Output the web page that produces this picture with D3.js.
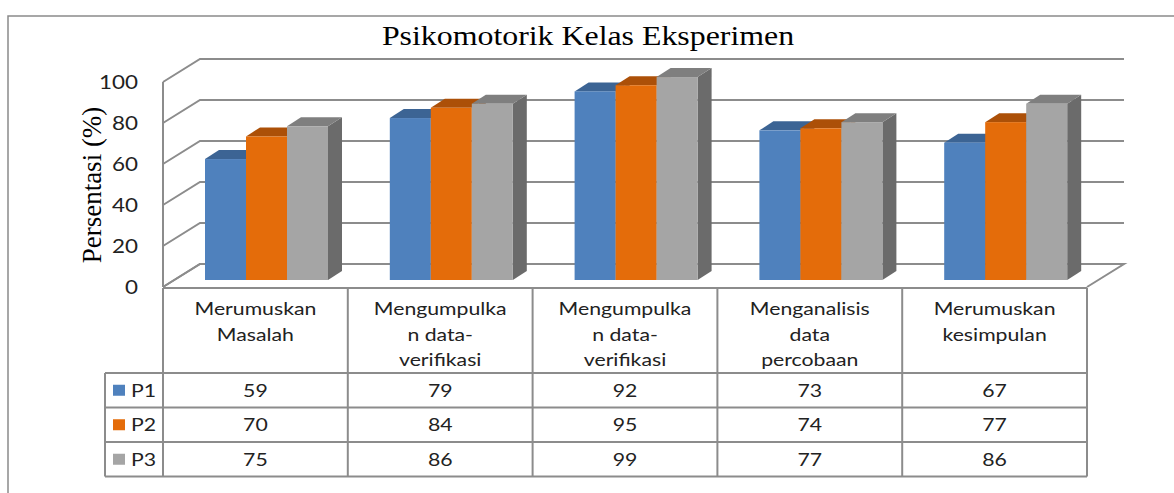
<!DOCTYPE html>
<html>
<head>
<meta charset="utf-8">
<script src="https://cdn.jsdelivr.net/npm/d3@7"></script>
<style>
  body { margin: 0; background: #fff; }
  svg { display: block; }
  .serif { font-family: "Liberation Serif", "Times New Roman", serif; fill: #000; }
  .sans { font-family: Lato, "Open Sans", sans-serif; fill: #222; }
</style>
</head>
<body>
<svg id="chart" width="1174" height="493"></svg>
<script>
// data
let categories = ["Merumuskan Masalah", "Mengumpulkan data-verifikasi (1)", "Mengumpulkan data-verifikasi (2)", "Menganalisis data percobaan", "Merumuskan kesimpulan"]
let categoryLines = [
    ["Merumuskan", "Masalah"],
    ["Mengumpulka", "n data-", "verifikasi"],
    ["Mengumpulka", "n data-", "verifikasi"],
    ["Menganalisis", "data", "percobaan"],
    ["Merumuskan", "kesimpulan"]
]
let seriesNames = ["P1", "P2", "P3"]
let p1 = [59, 79, 92, 73, 67]
let p2 = [70, 84, 95, 74, 77]
let p3 = [75, 86, 99, 77, 86]
let yTicks = [0, 20, 40, 60, 80, 100]

let seriesValues = [p1, p2, p3]
// front, top, side colours per series
let colors = [
    {front: "#4f81bd", top: "#3c6494", side: "#385d8a"},
    {front: "#e46c0a", top: "#ac5008", side: "#a04b08"},
    {front: "#a5a5a5", top: "#7f7f7f", side: "#6b6b6b"}
]

let svg = d3.select("#chart")

const left = 163, right = 1087
const backDx = 37, backDy = -23     // back wall offset
const barDx = 11, barDy = -7        // bar front plane offset
const depthDx = 14, depthDy = -9    // bar depth
const gridColor = "#8c8c8c"
const stretch = 1.18                // the original picture is a bit wider than tall

let x = d3.scaleBand().domain(categories).range([left, right])
let xs = d3.scaleBand().domain(seriesNames).range([31, 31 + 123])
let y = d3.scaleLinear().domain([0, 100]).range([287, 82])

// helper: text placed at (px,py), stretched horizontally
function addText(parent, px, py, str, size, anchor, cls) {
    return parent.append("text").attr("class", cls || "sans")
        .attr("transform", `translate(${px},${py}) scale(${stretch},1)`)
        .attr("dy", "0.35em")
        .attr("text-anchor", anchor || "middle")
        .attr("font-size", size)
        .text(str)
}

// outer frame
svg.append("path")
    .attr("d", "M8,493 L8,16 L1174,16")
    .attr("fill", "none").attr("stroke", "#8a8a8a").attr("stroke-width", 1.5)

// title
svg.append("text").attr("class", "serif")
    .attr("transform", `translate(588,45) scale(${stretch},1)`)
    .attr("text-anchor", "middle").attr("font-size", 27)
    .text("Psikomotorik Kelas Eksperimen")

// floor
svg.append("path")
    .attr("d", `M${left},${y(0)} L${left + backDx},${y(0) + backDy} L${right + backDx},${y(0) + backDy} L${right},${y(0)}`)
    .attr("fill", "none").attr("stroke", gridColor).attr("stroke-width", 2)

// gridlines: left wall diagonal + back wall
svg.append("g").selectAll("path")
    .data(yTicks)
    .join("path")
    .attr("d", d => `M${left},${y(d)} L${left + backDx},${y(d) + backDy} L${right + backDx},${y(d) + backDy}`)
    .attr("fill", "none").attr("stroke", gridColor).attr("stroke-width", 2)

// front axis line
svg.append("line")
    .attr("x1", left).attr("x2", left)
    .attr("y1", y(100)).attr("y2", y(0))
    .attr("stroke", gridColor).attr("stroke-width", 2)

// y tick labels
let tickG = svg.append("g")
yTicks.forEach(t => addText(tickG, 138, y(t), t, 19, "end"))

// y axis title
svg.append("text").attr("class", "serif")
    .attr("transform", "translate(101,185) rotate(-90)")
    .attr("text-anchor", "middle").attr("font-size", 27)
    .text("Persentasi (%)")

// bars
let yb = v => y(v) + barDy
let barGroups = svg.append("g").selectAll("g")
    .data(categories)
    .join("g")

barGroups.each(function (cat, ci) {
    let g = d3.select(this)
    seriesNames.forEach((s, si) => {
        let v = seriesValues[si][ci]
        let x0 = x(cat) + xs(s) + barDx
        let x1 = x0 + xs.bandwidth()
        let yt = yb(v), y0 = yb(0)
        let c = colors[si]
        g.append("path")
            .attr("d", `M${x1},${yt} L${x1 + depthDx},${yt + depthDy} L${x1 + depthDx},${y0 + depthDy} L${x1},${y0}Z`)
            .attr("fill", c.side)
        g.append("path")
            .attr("d", `M${x0},${yt} L${x0 + depthDx},${yt + depthDy} L${x1 + depthDx},${yt + depthDy} L${x1},${yt}Z`)
            .attr("fill", c.top)
        g.append("rect")
            .attr("x", x0).attr("y", yt)
            .attr("width", xs.bandwidth()).attr("height", y0 - yt)
            .attr("fill", c.front)
    })
})

// data table
const headerTop = 288, headerBottom = 373, rowH = 34.5
const legendLeft = 105
let rowY = i => headerBottom + i * rowH
let tableBottom = rowY(seriesNames.length)
let table = svg.append("g")

// horizontal lines
table.append("line")
    .attr("x1", left).attr("x2", right).attr("y1", headerTop).attr("y2", headerTop)
seriesNames.concat(["end"]).forEach((s, i) => {
    table.append("line")
        .attr("x1", legendLeft).attr("x2", right)
        .attr("y1", rowY(i)).attr("y2", rowY(i))
})
// vertical lines
table.append("line")
    .attr("x1", legendLeft).attr("x2", legendLeft).attr("y1", headerBottom).attr("y2", tableBottom)
categories.forEach(c => {
    table.append("line")
        .attr("x1", x(c)).attr("x2", x(c)).attr("y1", headerTop).attr("y2", tableBottom)
})
table.append("line")
    .attr("x1", right).attr("x2", right).attr("y1", headerTop).attr("y2", tableBottom)
table.selectAll("line").attr("stroke", gridColor).attr("stroke-width", 2)

// header labels
categories.forEach((c, ci) => {
    categoryLines[ci].forEach((line, li) => {
        addText(table, x(c) + x.bandwidth() / 2, 309 + li * 25.5, line, 18)
    })
})

// rows: legend key + values
seriesNames.forEach((s, si) => {
    let cy = rowY(si) + rowH / 2
    table.append("rect")
        .attr("x", 113).attr("y", cy - 5.5)
        .attr("width", 12).attr("height", 11)
        .attr("fill", colors[si].front)
    addText(table, 131, cy, s, 18, "start")
    categories.forEach((c, ci) => {
        addText(table, x(c) + x.bandwidth() / 2, cy, seriesValues[si][ci], 18)
    })
})
</script>
</body>
</html>
